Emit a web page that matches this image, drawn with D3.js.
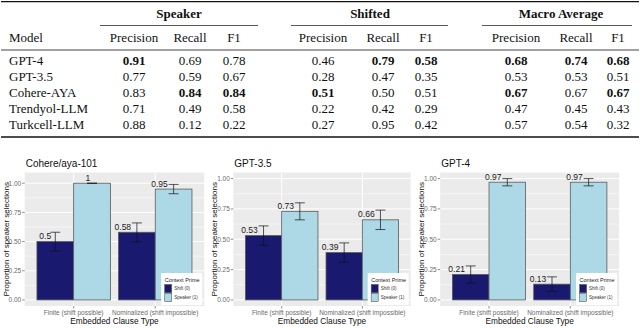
<!DOCTYPE html>
<html>
<head>
<meta charset="utf-8">
<script src="https://cdn.jsdelivr.net/npm/d3@7"></script>
<style>
  body { margin: 0; background: #fff; }
  svg { display: block; }
</style>
</head>
<body>
<svg id="chart" width="640" height="329"></svg>
<script>
// ---- table data
var tableModels = ["GPT-4", "GPT-3.5", "Cohere-AYA", "Trendyol-LLM", "Turkcell-LLM"];
var tableGroups = ["Speaker", "Shifted", "Macro Average"];
var tableMetrics = ["Precision", "Recall", "F1"];
var speakerScores = [
  ["0.91", "0.69", "0.78"],
  ["0.77", "0.59", "0.67"],
  ["0.83", "0.84", "0.84"],
  ["0.71", "0.49", "0.58"],
  ["0.88", "0.12", "0.22"]
];
var shiftedScores = [
  ["0.46", "0.79", "0.58"],
  ["0.28", "0.47", "0.35"],
  ["0.51", "0.50", "0.51"],
  ["0.22", "0.42", "0.29"],
  ["0.27", "0.95", "0.42"]
];
var macroScores = [
  ["0.68", "0.74", "0.68"],
  ["0.53", "0.53", "0.51"],
  ["0.67", "0.67", "0.67"],
  ["0.47", "0.45", "0.43"],
  ["0.57", "0.54", "0.32"]
];
// row-column of bold cells (column 0..8 across the three groups)
var boldCells = ["0-0", "0-4", "0-5", "0-6", "0-7", "0-8", "2-1", "2-2", "2-3", "2-6", "2-8"];

// ---- chart data
var chartTitles = ["Cohere/aya-101", "GPT-3.5", "GPT-4"];
var clauseTypes = ["Finite (shift possible)", "Nominalized (shift impossible)"];
var contextPrimes = ["Shift (0)", "Speaker (1)"];
var shiftMeans   = [[0.5, 0.58], [0.53, 0.39], [0.21, 0.13]];
var speakerMeans = [[1, 0.95],   [0.73, 0.66], [0.97, 0.97]];
var shiftLow     = [[0.42, 0.50], [0.45, 0.31], [0.14, 0.07]];
var shiftHigh    = [[0.58, 0.66], [0.61, 0.47], [0.28, 0.19]];
var speakerLow   = [[1, 0.91],   [0.66, 0.58], [0.94, 0.94]];
var speakerHigh  = [[1, 0.99],   [0.80, 0.74], [1.00, 1.00]];
var yTicks = [0, 0.25, 0.5, 0.75, 1];
var yMinor = [0.125, 0.375, 0.625, 0.875];
var yMax = [1.04, 1, 1];   // upper data limit of each panel

var primeColors = ["#191970", "#ADD8E6"];

var svg = d3.select("#chart");

// ================= table =================
var serif = "'Liberation Serif', 'Times New Roman', serif";
var colCenters = [134, 190, 234, 323, 383, 426, 516, 576, 618];
var groupCenters = [179, 370, 561];
var groupRules = [[100, 258], [291, 448], [482, 632]];

var table = svg.append("g").attr("font-family", serif).attr("fill", "#111");

table.append("line").attr("x1", 1).attr("x2", 639).attr("y1", 1.7).attr("y2", 1.7)
  .attr("stroke", "#111").attr("stroke-width", 1.3);

tableGroups.forEach(function(g, i){
  table.append("text").attr("x", groupCenters[i]).attr("y", 17.5)
    .attr("text-anchor", "middle").attr("font-size", 13).attr("font-weight", "bold").text(g);
  table.append("line").attr("x1", groupRules[i][0]).attr("x2", groupRules[i][1])
    .attr("y1", 25.5).attr("y2", 25.5).attr("stroke", "#111").attr("stroke-width", 0.7);
});

table.append("text").attr("x", 9).attr("y", 41.5).attr("font-size", 13).text("Model");
colCenters.forEach(function(cx, j){
  table.append("text").attr("x", cx).attr("y", 41.5).attr("text-anchor", "middle")
    .attr("font-size", 13).text(tableMetrics[j % 3]);
});

table.append("line").attr("x1", 1).attr("x2", 639).attr("y1", 50).attr("y2", 50)
  .attr("stroke", "#111").attr("stroke-width", 0.8);

var rowY = d3.scalePoint().domain(tableModels).range([65, 129]);

tableModels.forEach(function(m, r){
  var y = rowY(m);
  table.append("text").attr("x", 9).attr("y", y).attr("font-size", 13).text(m);
  var vals = speakerScores[r].concat(shiftedScores[r], macroScores[r]);
  vals.forEach(function(v, c){
    table.append("text").attr("x", colCenters[c]).attr("y", y)
      .attr("text-anchor", "middle").attr("font-size", 13)
      .attr("font-weight", boldCells.indexOf(r + "-" + c) >= 0 ? "bold" : "normal")
      .text(v);
  });
});

table.append("line").attr("x1", 1).attr("x2", 639).attr("y1", 137).attr("y2", 137)
  .attr("stroke", "#111").attr("stroke-width", 1.3);

// ================= bar charts =================
var sans = "'Liberation Sans', Arial, Helvetica, sans-serif";
var panelX = [[24.7, 204.2], [233.3, 410.7], [440.2, 619.1]];
var panelTop = 172.5, panelBottom = 306;

chartTitles.forEach(function(title, p){
  var left = panelX[p][0], right = panelX[p][1];
  var g = svg.append("g").attr("font-family", sans);

  var x = d3.scaleBand().domain(clauseTypes).range([left, right])
    .paddingInner(0.1).paddingOuter(0.15);
  var xSub = d3.scaleBand().domain(contextPrimes).range([0, x.bandwidth()]);
  var R = yMax[p];
  var y = d3.scaleLinear().domain([-0.05 * R, 1.05 * R]).range([panelBottom, panelTop]);

  // panel background + grid
  g.append("rect").attr("x", left).attr("y", panelTop)
    .attr("width", right - left).attr("height", panelBottom - panelTop).attr("fill", "#EBEBEB");
  yMinor.forEach(function(t){
    g.append("line").attr("x1", left).attr("x2", right).attr("y1", y(t)).attr("y2", y(t))
      .attr("stroke", "#fff").attr("stroke-width", 0.5);
  });
  yTicks.forEach(function(t){
    g.append("line").attr("x1", left).attr("x2", right).attr("y1", y(t)).attr("y2", y(t))
      .attr("stroke", "#fff").attr("stroke-width", 1);
  });
  clauseTypes.forEach(function(c){
    var cx = x(c) + x.bandwidth() / 2;
    g.append("line").attr("x1", cx).attr("x2", cx).attr("y1", panelTop).attr("y2", panelBottom)
      .attr("stroke", "#fff").attr("stroke-width", 1);
  });

  // bars
  var rows = [];
  clauseTypes.forEach(function(c, ci){
    rows.push({clause: c, prime: contextPrimes[0], k: 0, v: shiftMeans[p][ci], lo: shiftLow[p][ci], hi: shiftHigh[p][ci]});
    rows.push({clause: c, prime: contextPrimes[1], k: 1, v: speakerMeans[p][ci], lo: speakerLow[p][ci], hi: speakerHigh[p][ci]});
  });

  g.selectAll("rect.bar").data(rows).enter().append("rect")
    .attr("class", "bar")
    .attr("x", function(d){ return x(d.clause) + xSub(d.prime); })
    .attr("width", xSub.bandwidth())
    .attr("y", function(d){ return y(d.v); })
    .attr("height", function(d){ return y(0) - y(d.v); })
    .attr("fill", function(d){ return primeColors[d.k]; })
    .attr("stroke", "#5a5a5a").attr("stroke-width", 0.8);

  // error bars
  rows.forEach(function(d){
    var cx = x(d.clause) + xSub(d.prime) + xSub.bandwidth() / 2;
    var eb = g.append("g").attr("stroke", "#111").attr("stroke-width", 0.7);
    eb.append("line").attr("x1", cx).attr("x2", cx).attr("y1", y(d.lo)).attr("y2", y(d.hi));
    eb.append("line").attr("x1", cx - 5).attr("x2", cx + 5).attr("y1", y(d.lo)).attr("y2", y(d.lo));
    eb.append("line").attr("x1", cx - 5).attr("x2", cx + 5).attr("y1", y(d.hi)).attr("y2", y(d.hi));
  });

  // value labels
  rows.forEach(function(d){
    var cx = x(d.clause) + xSub(d.prime) + xSub.bandwidth() / 2;
    var t = g.append("text").attr("y", y(d.v) - 2.5).attr("font-size", 8.5)
      .attr("fill", "#1a1a1a").text(String(d.v));
    var w = t.node().getComputedTextLength();
    t.attr("x", cx - 1.35 * w);
  });

  // y axis
  yTicks.forEach(function(t){
    g.append("line").attr("x1", left - 2.5).attr("x2", left).attr("y1", y(t)).attr("y2", y(t))
      .attr("stroke", "#444").attr("stroke-width", 0.6);
    g.append("text").attr("x", left - 3.5).attr("y", y(t)).attr("dy", "0.35em")
      .attr("text-anchor", "end").attr("font-size", 6.5).attr("fill", "#6b6b6b")
      .text(d3.format(".2f")(t));
  });
  // x axis
  clauseTypes.forEach(function(c){
    var cx = x(c) + x.bandwidth() / 2;
    g.append("line").attr("x1", cx).attr("x2", cx).attr("y1", panelBottom).attr("y2", panelBottom + 2.5)
      .attr("stroke", "#444").attr("stroke-width", 0.6);
    g.append("text").attr("x", cx).attr("y", 314.5).attr("text-anchor", "middle")
      .attr("font-size", 6.5).attr("fill", "#6b6b6b").text(c);
  });

  g.append("text").attr("x", (left + right) / 2).attr("y", 324).attr("text-anchor", "middle")
    .attr("font-size", 8.3).attr("fill", "#111").text("Embedded Clause Type");
  g.append("text")
    .attr("transform", "translate(" + (left - 19) + "," + ((panelTop + panelBottom) / 2) + ") rotate(-90)")
    .attr("text-anchor", "middle").attr("dy", "0.35em")
    .attr("font-size", 8).attr("fill", "#111").text("Proportion of speaker selections");

  g.append("text").attr("x", left + 1).attr("y", 167).attr("font-size", 10)
    .attr("fill", "#111").text(title);

  // legend
  var lw = 41, lx = right - lw - 2, ly = 273;
  var lg = g.append("g");
  lg.append("rect").attr("x", lx).attr("y", ly).attr("width", lw).attr("height", 32).attr("fill", "#fff");
  lg.append("text").attr("x", lx + 3.5).attr("y", ly + 8.5).attr("font-size", 5.5)
    .attr("fill", "#222").text("Context Prime");
  contextPrimes.forEach(function(cp, k){
    var ky = ly + 11.5 + k * 8.8;
    lg.append("rect").attr("x", lx + 3.5).attr("y", ky).attr("width", 7).attr("height", 8.3)
      .attr("fill", primeColors[k]).attr("stroke", "#5a5a5a").attr("stroke-width", 0.6);
    lg.append("text").attr("x", lx + 13).attr("y", ky + 4.2).attr("dy", "0.35em")
      .attr("font-size", 4.5).attr("fill", "#333").text(cp);
  });
});
</script>
</body>
</html>
